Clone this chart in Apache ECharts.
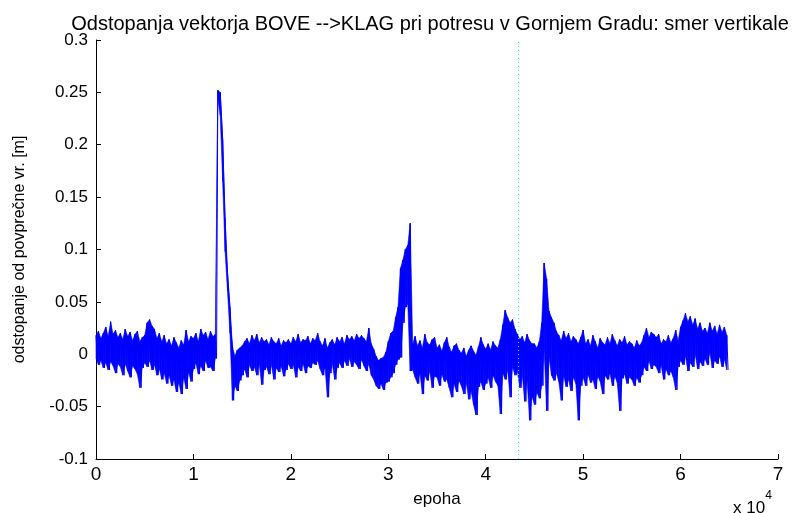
<!DOCTYPE html>
<html><head><meta charset="utf-8">
<script src="https://cdn.jsdelivr.net/npm/echarts@6/dist/echarts.min.js"></script>
<style>html,body{margin:0;padding:0;background:#fff}#c{width:800px;height:513px}</style>
</head><body><div id="c"></div>
<script>
// bin width in epochs; each bin gives an upper and a lower reading of the noisy band
const binWidth = 250;
const hiVals = [
0.018,0.022,0.015,0.020,0.026,0.017,0.031,0.019,0.023,0.016,
0.020,0.014,0.024,0.017,0.021,0.013,0.019,0.022,0.012,0.016,
0.018,0.030,0.033,0.027,0.024,0.015,0.020,0.012,0.018,0.010,
0.014,0.008,0.016,0.011,0.006,0.013,0.009,0.023,0.012,0.017,
0.015,0.020,0.012,0.024,0.018,0.021,0.014,0.022,0.017,0.019,
0.252,0.250,0.205,0.130,0.078,0.045,0.008,-0.002,0.004,0.006,
0.008,0.012,0.015,0.010,0.018,0.013,0.019,0.011,0.016,0.012,
0.014,0.009,0.016,0.012,0.010,0.015,0.008,0.013,0.011,0.014,
0.010,0.016,0.012,0.019,0.011,0.014,0.013,0.017,0.010,0.015,
0.013,0.020,0.012,0.008,0.015,0.006,0.011,0.014,0.009,0.016,
0.012,0.016,0.010,0.018,0.014,0.017,0.013,0.019,0.015,0.018,
0.015,0.012,0.025,0.010,0.005,-0.002,-0.006,-0.004,-0.003,0.002,
0.012,0.020,0.022,0.035,0.045,0.082,0.090,0.100,0.104,0.125,
0.010,0.017,0.008,0.013,0.006,0.019,0.011,0.009,0.014,0.016,
0.006,0.009,0.003,0.011,0.016,0.007,0.002,0.008,0.010,0.004,
0.001,0.006,-0.002,0.004,0.008,0.003,-0.001,0.007,0.016,0.009,
0.005,0.010,0.004,0.012,0.008,0.006,0.014,0.028,0.042,0.035,
0.030,0.033,0.024,0.019,0.014,0.017,0.011,0.019,0.013,0.010,
0.010,0.006,0.012,0.030,0.087,0.072,0.041,0.035,0.030,0.022,
0.018,0.013,0.022,0.015,0.020,0.012,0.017,0.014,0.010,0.016,
0.023,0.010,0.014,0.008,0.018,0.012,0.006,0.015,0.011,0.009,
0.016,0.010,0.019,0.013,0.008,0.014,0.011,0.017,0.009,0.012,
0.010,0.006,0.013,0.008,0.011,0.018,0.025,0.016,0.021,0.019,
0.016,0.019,0.010,0.014,0.012,0.018,0.011,0.015,0.023,0.013,
0.026,0.032,0.039,0.031,0.036,0.028,0.034,0.024,0.030,0.022,
0.025,0.020,0.030,0.022,0.027,0.019,0.028,0.021,0.026,0.018
];
const loVals = [
-0.004,-0.010,-0.006,-0.013,-0.008,-0.015,-0.007,-0.011,-0.018,-0.009,
-0.012,-0.020,-0.009,-0.016,-0.022,-0.011,-0.014,-0.019,-0.032,-0.013,
-0.008,-0.012,-0.006,-0.015,-0.010,-0.020,-0.014,-0.024,-0.018,-0.028,
-0.020,-0.030,-0.024,-0.036,-0.027,-0.038,-0.022,-0.033,-0.017,-0.026,
-0.014,-0.008,-0.019,-0.011,-0.016,-0.006,-0.013,-0.012,-0.016,-0.004,
0.245,0.228,0.165,0.098,0.060,0.020,-0.044,-0.030,-0.035,-0.025,
-0.020,-0.014,-0.022,-0.010,-0.016,-0.012,-0.020,-0.009,-0.029,-0.015,
-0.012,-0.019,-0.010,-0.024,-0.013,-0.017,-0.011,-0.021,-0.015,-0.009,
-0.014,-0.010,-0.022,-0.012,-0.016,-0.009,-0.018,-0.011,-0.013,-0.008,
-0.010,-0.006,-0.014,-0.020,-0.012,-0.041,-0.018,-0.009,-0.024,-0.013,
-0.008,-0.013,-0.006,-0.011,-0.004,-0.012,-0.007,-0.010,-0.014,-0.005,
-0.011,-0.016,-0.009,-0.020,-0.024,-0.030,-0.033,-0.028,-0.034,-0.027,
-0.026,-0.022,-0.018,-0.010,-0.005,-0.003,0.030,0.045,0.048,-0.016,
-0.015,-0.022,-0.028,-0.018,-0.038,-0.020,-0.025,-0.016,-0.032,-0.021,
-0.022,-0.030,-0.019,-0.026,-0.024,-0.032,-0.041,-0.028,-0.036,-0.025,
-0.030,-0.038,-0.027,-0.043,-0.035,-0.048,-0.058,-0.031,-0.026,-0.034,
-0.028,-0.022,-0.032,-0.020,-0.026,-0.030,-0.057,-0.018,-0.024,-0.015,
-0.041,-0.012,-0.020,-0.016,-0.032,-0.020,-0.045,-0.025,-0.063,-0.040,
-0.048,-0.036,-0.042,-0.030,0.004,-0.054,-0.003,-0.020,-0.025,-0.018,
-0.026,-0.044,-0.020,-0.031,-0.024,-0.035,-0.022,-0.028,-0.063,-0.030,
-0.022,-0.030,-0.019,-0.027,-0.024,-0.033,-0.021,-0.026,-0.038,-0.020,
-0.024,-0.018,-0.030,-0.021,-0.027,-0.054,-0.023,-0.019,-0.028,-0.022,
-0.024,-0.030,-0.022,-0.027,-0.020,-0.012,-0.016,-0.006,-0.014,-0.010,
-0.012,-0.018,-0.010,-0.024,-0.014,-0.020,-0.016,-0.022,-0.034,-0.012,
-0.006,-0.010,-0.002,-0.016,-0.008,-0.012,0.000,-0.014,-0.007,-0.011,
-0.004,-0.010,0.002,-0.013,-0.006,-0.009,-0.002,-0.012,-0.005,-0.015
];
const markerEpoch = 43370;
const titleText = 'Odstopanja vektorja BOVE -->KLAG pri potresu v Gornjem Gradu: smer vertikale';
const xName = 'epoha';
const yName = 'odstopanje od povprečne vr. [m]';

// zig-zag trace between readings, and band cells [x, lo, hi, xNext, loNext, hiNext]
const trace = [];
const bandCells = [];
for (let i = 0; i < hiVals.length; i++) {
  const x = i * binWidth;
  trace.push([x, hiVals[i]]);
  trace.push([x + binWidth / 2, loVals[i]]);
  if (i + 1 < hiVals.length) {
    bandCells.push([x, loVals[i], hiVals[i], (i + 1) * binWidth, loVals[i + 1], hiVals[i + 1]]);
  }
}

const blue = '#0000ff';
function renderBand(params, api) {
  const a = api.coord([api.value(0), api.value(2)]);
  const b = api.coord([api.value(3), api.value(5)]);
  const c = api.coord([api.value(3), api.value(4)]);
  const d = api.coord([api.value(0), api.value(1)]);
  return {type: 'polygon', shape: {points: [a, b, c, d]},
    style: {fill: blue, stroke: blue, lineWidth: 0.6}};
}

const chart = echarts.init(document.getElementById('c'), null, {renderer: 'canvas'});
const axisFont = 'Liberation Sans, Arial, sans-serif';
const narrowFont = 'Liberation Sans Narrow, Liberation Sans, sans-serif';
chart.setOption({
  animation: false,
  backgroundColor: '#fff',
  title: {text: titleText, left: 425, top: 9, textAlign: 'center',
    textStyle: {fontFamily: axisFont, fontSize: 20, fontWeight: 'normal', color: '#000'}},
  grid: {left: 96, right: 22, top: 40, bottom: 51},
  xAxis: {type: 'value', min: 0, max: 70000, interval: 10000,
    axisLine: {onZero: false, lineStyle: {color: '#000', width: 1}},
    axisTick: {inside: true, length: 5, lineStyle: {color: '#000'}},
    splitLine: {show: false},
    axisLabel: {color: '#000', fontFamily: narrowFont, fontSize: 19, margin: 6,
      formatter: v => String(Math.round(v / 10000))},
    name: xName, nameLocation: 'middle', nameGap: 32,
    nameTextStyle: {color: '#000', fontFamily: narrowFont, fontSize: 17}
  },
  yAxis: {type: 'value', min: -0.1, max: 0.3, interval: 0.05,
    axisLine: {show: true, lineStyle: {color: '#000', width: 1}},
    axisTick: {show: true, inside: true, length: 5, lineStyle: {color: '#000'}},
    splitLine: {show: false},
    axisLabel: {color: '#000', fontFamily: axisFont, fontSize: 17, margin: 8,
      formatter: v => String(parseFloat(v.toFixed(2)))},
    name: yName, nameLocation: 'middle', nameGap: 68, nameRotate: 90,
    nameTextStyle: {color: '#000', fontFamily: axisFont, fontSize: 16}
  },
  graphic: [{type: 'text', left: 733, top: 490,
    style: {text: '{a|x 10}{b|4}', rich: {
      a: {fontFamily: narrowFont, fontSize: 17, fill: '#000', padding: [10,0,0,0]},
      b: {fontFamily: narrowFont, fontSize: 12, fill: '#000', verticalAlign: 'top', padding: [0,0,10,0]}
    }}}],
  series: [
    {type: 'custom', data: bandCells, renderItem: renderBand, silent: true, z: 2,
      encode: {x: [0, 3], y: [1, 2, 4, 5]}},
    {type: 'line', data: trace, showSymbol: false, symbol: 'none',
      lineStyle: {color: blue, width: 1}, z: 3},
    {type: 'line', data: [[markerEpoch, -0.1], [markerEpoch, 0.3]], showSymbol: false, symbol: 'none',
      lineStyle: {color: '#00ffff', width: 1, type: [1, 3]}, z: 4}
  ]
});
</script></body></html>
